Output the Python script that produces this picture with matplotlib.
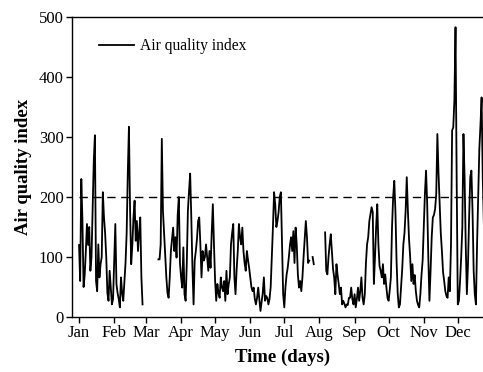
import numpy as np
import matplotlib
matplotlib.use("Agg")
import matplotlib.pyplot as plt

nan = np.nan
jan = [120, 60, 230, 160, 50, 70, 110, 155, 120, 150, 77, 100, 180, 260, 303, 60, 43, 121, 66, 88,
       100, 208, 166, 140, 100, 40, 27, 77, 50, 21, 30]
feb = [90, 155, 55, 40, 30, 16, 66, 40, 27, 60, 90, 140, 240, 317, 180, 88, 120, 166, 194, 127,
       160, 110, 140, 166, 66, 21, nan, nan]
mar = [nan] * 11 + [96, 96, 121, 297, 177, 140, 100, 66, 40, 32, 66, 110, 130, 149, 110, 133, 99, 170, 200, 90]
apr = [66, 49, 116, 38, 27, 88, 177, 210, 239, 166, 82, 21, 94, 110, 130, 160, 166, 121, 66, 110,
       94, 100, 121, 100, 77, 110, 82, 140, 188, 120]
may = [60, 27, 55, 40, 32, 66, 50, 43, 60, 27, 77, 38, 55, 66, 121, 140, 155, 66, 38, 80,
       110, 155, 133, 121, 149, 110, 90, 77, 110, 95, 82]
jun = [66, 50, 43, 49, 30, 21, 32, 49, 30, 10, 25, 40, 66, 27, 35, 32, 21, 30, 50, 100,
       150, 208, 188, 150, 160, 175, 200, 208, 121, 38]
jul = [16, 49, 70, 82, 99, 120, 133, 110, 143, 90, 149, 120, 70, 49, 60, 43, 66, 100, 130, 160,
       133, 90, 94, nan, nan, 100, 88, nan, nan, nan, nan]
aug = [nan] * 5 + [141, 77, 71, 100, 121, 138, 110, 80, 66, 38, 88, 70, 55, 38, 49, 21, 27, 22, 16, 21,
                   20, 32, 32, 49, 30, 21]
sep = [38, 16, 30, 49, 27, 43, 66, 32, 21, 38, 90, 121, 133, 160, 172, 183, 175, 55, 100, 150,
       188, 121, 85, 77, 66, 88, 55, 71, 50, 32]
oct_ = [27, 45, 66, 149, 200, 227, 177, 94, 40, 16, 21, 50, 80, 121, 140, 177, 233, 177, 130, 100,
        60, 88, 55, 70, 43, 27, 20, 16, 38, 70, 94]
nov = [149, 205, 244, 190, 100, 27, 77, 133, 166, 170, 180, 205, 305, 240, 188, 140, 110, 75, 60, 43,
       35, 32, 66, 43, 120, 311, 316, 361, 483, 233]
dec = [21, 27, 60, 100, 149, 305, 233, 121, 38, 88, 166, 233, 244, 177, 77, 38, 21, 121, 200, 280,
       320, 366, 233, 155]

aqi = np.array(jan + feb + mar + apr + may + jun + jul + aug + sep + oct_ + nov + dec, dtype=float)
days = np.arange(len(aqi))

month_labels = ["Jan", "Feb", "Mar", "Apr", "May", "Jun", "Jul", "Aug", "Sep", "Oct", "Nov", "Dec"]
month_starts = [0, 31, 59, 90, 120, 151, 181, 212, 243, 273, 304, 334]
threshold = 200

plt.rcParams['font.family'] = ['Liberation Serif', 'DejaVu Serif']

fig = plt.figure(figsize=(4.83, 3.72), dpi=100)
W, H = 483, 372
x0_px, top_px, bot_px = 72, 17, 317
xmin, xmax = -6.2, 366
ax_w_px = (xmax - xmin) * 1.134
ax = fig.add_axes([x0_px / W, (H - bot_px) / H, ax_w_px / W, (bot_px - top_px) / H])

ax.plot(days, aqi, color='black', lw=1.3, label='Air quality index')
ax.plot([0, 365], [threshold, threshold], color='black', lw=1.0, ls=(0, (6, 4)))

ax.set_xlim(xmin, xmax)
ax.set_ylim(0, 500)
ax.set_xticks(month_starts)
ax.set_xticklabels(month_labels)
ax.set_yticks([0, 100, 200, 300, 400, 500])
ax.tick_params(labelsize=12, length=4, width=1, pad=2)
for s in ax.spines.values():
    s.set_linewidth(1.0)

ax.set_xlabel('Time (days)', fontsize=13.5, fontweight='bold', labelpad=5)
ax.set_ylabel('Air quality index', fontsize=13.5, fontweight='bold', labelpad=5)

ax.legend(loc='upper left', bbox_to_anchor=(0.03, 0.975), frameon=False, fontsize=11.2,
          handlelength=2.3, handletextpad=0.35)

fig.savefig('out.png', dpi=100)
